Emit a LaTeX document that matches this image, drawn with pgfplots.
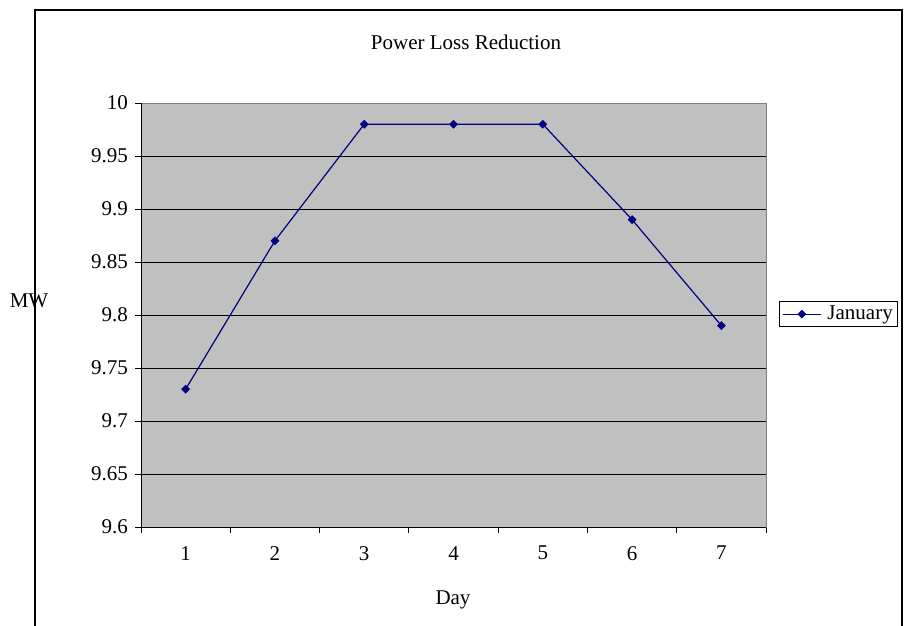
\documentclass[border=0pt]{standalone}
\usepackage{pgfplots}
\pgfplotsset{compat=1.18}
\usepackage{fontspec}
\setmainfont{Liberation Serif}
\definecolor{plotbg}{RGB}{192,192,192}
\definecolor{navyline}{RGB}{0,0,128}
\definecolor{frameGray}{RGB}{128,128,128}
\newcommand{\chartfont}{\fontsize{21bp}{25bp}\selectfont}

\begin{document}
\chartfont
\begin{tikzpicture}
  % page extent and outer chart frame (open at the bottom)
  \useasboundingbox (0,0) rectangle (905bp,-626bp);
  \draw[line width=1.2bp] (35bp,-626bp) -- (35bp,-10bp) -- (902bp,-10bp) -- (902bp,-626bp);

  \node[anchor=base] at (466bp,-49bp) {Power Loss Reduction};
  \node[anchor=base] at (453bp,-604bp) {Day};
  \node[anchor=base] at (29bp,-307bp) {MW};

  \begin{axis}[
    at={(141bp,-527bp)}, anchor=south west,
    scale only axis, width=625bp, height=424bp,
    xmin=0.5, xmax=7.5, ymin=9.6, ymax=10,
    axis background/.style={fill=plotbg},
    axis line style={frameGray, line width=0.8bp},
    % category boundaries carry the ticks, names sit between them
    xtick={0.5,1.5,...,7.6},
    x tick label as interval,
    xticklabels={1,2,3,4,5,6,7},
    xtick pos=bottom,
    ytick={9.6,9.65,...,10.01},
    ytick pos=left,
    tick align=outside,
    major tick length=6bp,
    tick style={black, line width=1bp},
    ymajorgrids,
    major grid style={black, line width=0.7bp},
    yticklabel style={/pgf/number format/fixed, /pgf/number format/precision=2,
      /pgf/number format/assume math mode=true, font=\chartfont},
    xticklabel style={/pgf/number format/assume math mode=true,
      font=\chartfont, yshift=-6bp},
    legend style={at={(1.0208,0.502)}, anchor=west, draw=black,
      line width=0.6bp, font=\chartfont, column sep=4bp,
      inner xsep=3bp, inner ysep=2bp},
    legend image code/.code={%
      \draw[mark repeat=2, mark phase=2, #1] plot coordinates {(0bp,0bp) (19bp,0bp) (38bp,0bp)};},
  ]
    \addplot[navyline, line width=1.2bp, mark=square*,
      mark size=2.9bp, mark options={rotate=45, fill=navyline, draw=navyline, line width=0.4bp}]
      coordinates {(1,9.73) (2,9.87) (3,9.98) (4,9.98) (5,9.98) (6,9.89) (7,9.79)};
    \addlegendentry{January}
    % left and bottom axis lines in black over the grey frame
    \draw[black, line width=1bp] (rel axis cs:0,1) -- (rel axis cs:0,0) -- (rel axis cs:1,0);
  \end{axis}
\end{tikzpicture}
\end{document}
